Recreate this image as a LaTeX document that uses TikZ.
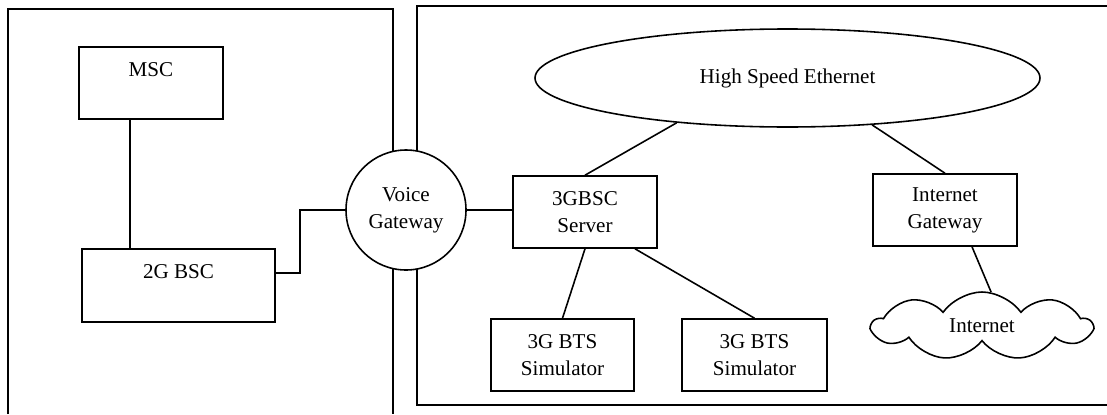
\documentclass[tikz,border=0pt]{standalone}
\usepackage{fontspec}
\setmainfont{Liberation Serif}
\usetikzlibrary{shapes.geometric,shapes.symbols}

\begin{document}
\begin{tikzpicture}[line width=0.9pt,font=\fontsize{12}{15.5}\selectfont]
		\tikzstyle{box}=[rectangle, draw=black, align=center, minimum width=2.88cm, minimum height=1.44cm, inner sep=1pt]
		\tikzstyle{gateway}=[circle, draw=black, fill=white, align=center, minimum size=2.4cm, inner sep=0pt]
		\tikzstyle{bus}=[ellipse, draw=black, minimum width=10.1cm, minimum height=1.96cm, inner sep=0pt]
		\tikzstyle{net}=[cloud, draw=black, cloud puffs=9, cloud puff arc=110, cloud ignores aspect, minimum width=4.38cm, minimum height=1.36cm, inner sep=0pt]

		\useasboundingbox (0,0) rectangle (22.14,-8.28);

		\draw (0.16,-8.28) -- (0.16,-0.18) -- (7.86,-0.18) -- (7.86,-8.28);
		\draw (22.14,-0.12) -- (8.34,-0.12) -- (8.34,-8.10) -- (22.14,-8.10);

		\node [box] (msc) at (3.02,-1.66) {MSC\\~};
		\node [box, minimum width=3.86cm, minimum height=1.46cm] (bsc2) at (3.57,-5.71) {2G BSC\\~};
		\node [gateway] (vgw) at (8.12,-4.2) {Voice\\Gateway};
		\node [box] (srv) at (11.7,-4.24) {3GBSC\\Server};
		\node [box, minimum width=2.86cm] (bts1) at (11.25,-7.1) {3G BTS\\Simulator};
		\node [box, minimum width=2.9cm] (bts2) at (15.09,-7.1) {3G BTS\\Simulator};
		\node [bus] (eth) at (15.75,-1.56) {High Speed Ethernet};
		\node [box] (igw) at (18.9,-4.2) {Internet\\Gateway};
		\node [net] (inet) at (19.64,-6.52) {Internet};

		\draw ([xshift=-0.42cm]msc.south) -- ([xshift=-0.42cm]msc.south |- bsc2.north);
		\draw ([yshift=0.25cm]bsc2.east) -- ++(0.48,0) |- (vgw.west);
		\draw (vgw.east) -- (vgw.east -| srv.west);
		\draw (srv.south) -- (bts1.north);
		\draw ([xshift=1cm]srv.south) -- (bts2.north);
		\draw (eth.202) -- (srv.north);
		\draw (eth.331) -- (igw.north);
		\draw ([xshift=0.54cm]igw.south) -- (inet.75);
	\end{tikzpicture}
\end{document}
